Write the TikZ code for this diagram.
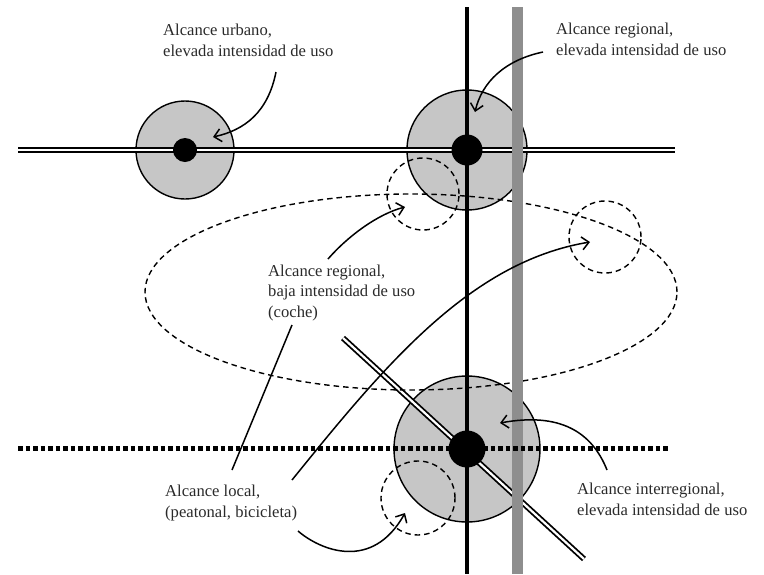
\documentclass[tikz,border=0pt]{standalone}
\usepackage{fontspec}
\setmainfont{Liberation Serif}
\usetikzlibrary{arrows.meta,shapes.geometric}
\definecolor{zonegray}{HTML}{C6C6C6}
\definecolor{railgray}{HTML}{8E8E8E}
\definecolor{inkgray}{HTML}{2A2A2A}
\begin{document}
\begin{tikzpicture}[x=1pt,y=-1pt,
  zone/.style={circle, draw=black, line width=1.4pt, fill=zonegray, inner sep=0pt},
  hub/.style={circle, fill=black, inner sep=0pt},
  reach/.style={circle, draw=black, line width=1.4pt, dash pattern=on 5.5pt off 4pt, inner sep=0pt},
  road/.style={draw=black, line width=1.8pt, double=white, double distance=2.2pt},
  path/.style={draw=black, line width=5pt, dash pattern=on 4.5pt off 3pt},
  street/.style={draw=black, line width=3.8pt},
  rail/.style={draw=railgray, line width=11pt},
  pointer/.style={draw=black, line width=1.5pt, -{Straight Barb[length=7pt,width=13pt,line width=1.5pt]}},
  leader/.style={draw=black, line width=1.5pt},
  label/.style={anchor=base west, inner sep=0pt, align=left, font=\fontsize{16.6}{20.5}\selectfont, text=inkgray}]
\useasboundingbox (0,0) rectangle (764,574);

% service areas
\node[zone, minimum size=98pt] (urb) at (185,150) {};
\node[zone, minimum size=120pt] (reg) at (467,150) {};
\node[zone, minimum size=146pt] (int) at (467,449) {};

% road network
\coordinate (hW) at (18,150);
\coordinate (hE) at (675,150);
\coordinate (dN) at (343,338);
\coordinate (dS) at (584,559);
\draw[road] (hW) -- (hE);
\draw[road] (dN) -- (dS);

% lower-intensity reach
\node[reach, minimum size=72pt] (regcar) at (423,194) {};
\node[reach, minimum size=72pt] (farcar) at (605,237) {};
\node[reach, minimum size=74pt] (loc) at (418,498) {};
\draw[line width=1.4pt, dash pattern=on 5.5pt off 4pt] (411,292) ellipse [x radius=266pt, y radius=98pt];

% main street
\coordinate (vN) at (467,7);
\coordinate (vS) at (467,574);
\draw[street] (vN) -- (vS);

% rail corridor
\coordinate (rN) at (517.5,7);
\coordinate (rS) at (517.5,574);
\draw[rail] (rN) -- (rS);

% pedestrian path
\coordinate (pW) at (18,448);
\coordinate (pE) at (668,448);
\draw[path] (pW) -- (pE);

% stops
\node[hub, minimum size=24pt] (urbhub) at (urb) {};
\node[hub, minimum size=31pt] (reghub) at (reg) {};
\node[hub, minimum size=37pt] (inthub) at (int) {};

% labels (anchored on the baseline of the last line)
\node[label] (tUrb) at (163,56) {Alcance urbano,\\elevada intensidad de uso};
\node[label] (tReg) at (556,55) {Alcance regional,\\elevada intensidad de uso};
\node[label] (tCar) at (268,317) {Alcance regional,\\baja intensidad de uso\\(coche)};
\node[label] (tLoc) at (165,517) {Alcance local,\\(peatonal, bicicleta)};
\node[label] (tInt) at (577,515) {Alcance interregional,\\elevada intensidad de uso};

% pointers
\coordinate (aUrbS) at (276,72);
\coordinate (aUrbE) at (213,137);
\draw[pointer] (aUrbS) .. controls (268,112) and (245,130) .. (aUrbE);
\coordinate (aRegS) at (543,52);
\coordinate (aRegE) at (475,112);
\draw[pointer] (aRegS) .. controls (505,60) and (482,82) .. (aRegE);
\coordinate (aCarS) at (328,259);
\coordinate (aCarE) at (405,207);
\draw[pointer] (aCarS) .. controls (348,236) and (378,214) .. (aCarE);
\coordinate (aFarS) at (292,480);
\coordinate (aFarE) at (590,242);
\draw[pointer] (aFarS) .. controls (385,365) and (470,262) .. (aFarE);
\coordinate (aLocS) at (298,531);
\coordinate (aLocE) at (405,513);
\draw[pointer] (aLocS) .. controls (320,550) and (372,572) .. (aLocE);
\coordinate (aIntS) at (607,470);
\coordinate (aIntE) at (500,423);
\draw[pointer] (aIntS) .. controls (592,432) and (560,412) .. (aIntE);
\coordinate (lCarS) at (292,325);
\coordinate (lLocE) at (232,470);
\draw[leader] (lCarS) -- (lLocE);
\end{tikzpicture}
\end{document}
